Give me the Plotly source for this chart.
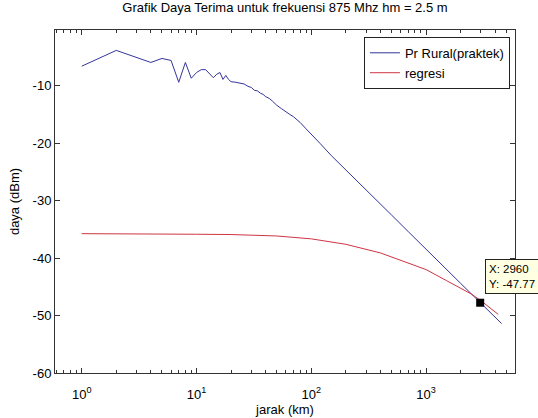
import math
import plotly.graph_objects as go

# ---------------- data ----------------
jarak_praktek = [1, 2, 4, 5, 6, 7, 8, 9, 10, 11, 12, 13, 14, 15, 16, 17, 18, 19, 20,
                 22, 24, 26, 28, 30, 32, 34, 36, 38, 40, 43, 46, 50, 55, 60, 65, 70,
                 75, 80, 90, 100, 110, 120, 150, 200, 300, 500, 700, 1000, 1500,
                 2000, 2500, 2960, 3500, 4000, 4550]
daya_praktek = [-6.6, -3.85, -5.95, -5.25, -5.6, -9.4, -5.95, -8.7, -7.7, -7.2, -7.2,
                -7.9, -8.6, -8.0, -7.7, -8.9, -8.2, -8.9, -9.3,
                -9.4, -9.6, -9.7, -10.1, -10.3, -10.8, -10.9, -11.3, -11.5, -11.9,
                -12.2, -12.7, -13.4, -14.0, -14.6, -15.0, -15.4,
                -15.9, -16.4, -17.5, -18.4, -19.2, -20.1, -22.2, -24.7, -28.2, -32.5,
                -35.4, -38.4, -41.9, -44.4, -46.3, -47.77, -49.2, -50.3, -51.4]

jarak_regresi = [1, 2, 5, 10, 20, 50, 100, 200, 400, 700, 1000, 1500, 2000, 2500,
                 3000, 3500, 4250]
daya_regresi = [-35.75, -35.75, -35.8, -35.85, -35.9, -36.15, -36.65, -37.6, -39.1,
                -40.8, -42.0, -43.9, -45.2, -46.3, -47.4, -48.5, -49.8]

datatip_x = 2960
datatip_y = -47.77

x_tickvals = [1, 10, 100, 1000]
x_ticktext = ["10<sup>0</sup>", "10<sup>1</sup>", "10<sup>2</sup>", "10<sup>3</sup>"]
x_minorvals = [0.6, 0.7, 0.8, 0.9, 2, 3, 4, 5, 6, 7, 8, 9, 20, 30, 40, 50, 60, 70,
               80, 90, 200, 300, 400, 500, 600, 700, 800, 900, 2000, 3000, 4000, 5000]
y_tickvals = [-60, -50, -40, -30, -20, -10]
y_ticktext = ["-60", "-50", "-40", "-30", "-20", "-10"]

title_text = "Grafik Daya Terima untuk frekuensi 875 Mhz hm = 2.5 m"

# ---------------- figure ----------------
FONT = "Arial, Liberation Sans, Helvetica, sans-serif"
AXC = "#333333"

fig = go.Figure()
fig.add_trace(go.Scatter(x=jarak_praktek, y=daya_praktek, mode="lines",
                         name="Pr Rural(praktek)",
                         line=dict(color="#34349c", width=1)))
fig.add_trace(go.Scatter(x=jarak_regresi, y=daya_regresi, mode="lines",
                         name="regresi",
                         line=dict(color="#d03444", width=1)))
fig.add_trace(go.Scatter(x=[datatip_x], y=[datatip_y], mode="markers",
                         showlegend=False,
                         marker=dict(symbol="square", size=8, color="black",
                                     line=dict(width=0))))

fig.add_annotation(x=math.log10(datatip_x), y=datatip_y, xref="x", yref="y",
                   text=f"X: {datatip_x}<br>Y: {datatip_y}",
                   showarrow=False, xanchor="left", yanchor="bottom",
                   xshift=5, yshift=9, align="left",
                   bgcolor="#ffffe1", bordercolor="#222222", borderwidth=1,
                   borderpad=3, font=dict(family=FONT, size=11.5, color="black"))

fig.update_layout(
    width=538, height=418,
    margin=dict(l=55, r=23, t=30, b=45, autoexpand=False),
    paper_bgcolor="white", plot_bgcolor="white",
    font=dict(family=FONT, size=13, color="black"),
    title=dict(text=title_text, x=(55 + 515) / 2 / 538, xanchor="center",
               y=1 - 7 / 418, yanchor="middle", yref="container",
               automargin=False,
               font=dict(family=FONT, size=13, color="black")),
    showlegend=True,
    legend=dict(x=0.989, y=0.98, xanchor="right", yanchor="top",
                bgcolor="white", bordercolor="#222222", borderwidth=1,
                font=dict(family=FONT, size=13, color="black"),
                tracegroupgap=0, itemwidth=30),
)

fig.update_xaxes(type="log", range=[math.log10(0.585), math.log10(5950)],
                 tickvals=x_tickvals, ticktext=x_ticktext, automargin=False,
                 ticks="inside", ticklen=5, tickcolor=AXC,
                 minor=dict(tickvals=x_minorvals, ticks="inside", ticklen=3,
                            tickcolor=AXC, showgrid=False),
                 showline=True, linecolor=AXC, linewidth=1, mirror="ticks",
                 showgrid=False, zeroline=False, ticklabelstandoff=9,
                 title=dict(text="jarak (km)", standoff=3,
                            font=dict(family=FONT, size=13)))
fig.update_yaxes(range=[-60, -0.3], tickvals=y_tickvals, ticktext=y_ticktext,
                 automargin=False,
                 ticks="inside", ticklen=5, tickcolor=AXC,
                 showline=True, linecolor=AXC, linewidth=1, mirror="ticks",
                 showgrid=False, zeroline=False,
                 title=dict(text="daya (dBm)", standoff=10,
                            font=dict(family=FONT, size=13)))

fig.write_html("out.html",
               config={"displayModeBar": False},
               post_script="document.body.style.margin='0';"
                           "document.body.style.overflow='hidden';")
